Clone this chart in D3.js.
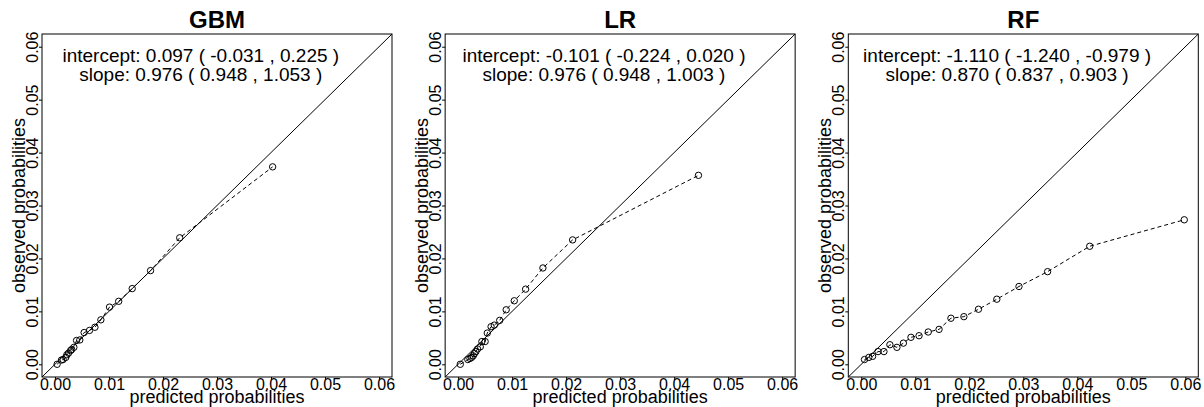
<!DOCTYPE html>
<html>
<head>
<meta charset="utf-8">
<script src="https://cdn.jsdelivr.net/npm/d3@7"></script>
<style>
  html, body { margin: 0; padding: 0; background: #fff; }
  svg { display: block; font-family: "Liberation Sans", Arial, sans-serif; }
</style>
</head>
<body>
<div id="chart"></div>
<script>
const W = 1204;
const H = 407;

// calibration data
const gbmPred = [0.0004, 0.0012, 0.0015, 0.0020, 0.0022, 0.0025, 0.0029, 0.0031, 0.0035, 0.0040, 0.0046,
  0.0054, 0.0064, 0.0074, 0.0085, 0.0101, 0.0118, 0.0143, 0.0177, 0.0231, 0.0403];
const gbmObs = [0.0000, 0.0008, 0.0009, 0.0013, 0.0018, 0.0021, 0.0026, 0.0028, 0.0032, 0.0045, 0.0046,
  0.0060, 0.0064, 0.0070, 0.0084, 0.0108, 0.0119, 0.0143, 0.0177, 0.0239, 0.0373];

const lrPred = [0.0004, 0.0018, 0.0022, 0.0025, 0.0028, 0.0030, 0.0033, 0.0036, 0.0041, 0.0044, 0.0050,
  0.0054, 0.0061, 0.0067, 0.0077, 0.0089, 0.0104, 0.0125, 0.0157, 0.0212, 0.0445];
const lrObs = [0.0000, 0.0009, 0.0011, 0.0013, 0.0016, 0.0020, 0.0024, 0.0029, 0.0033, 0.0043, 0.0043,
  0.0059, 0.0071, 0.0074, 0.0083, 0.0103, 0.0120, 0.0142, 0.0182, 0.0235, 0.0357];

const rfPred = [0.0006, 0.0014, 0.0021, 0.0031, 0.0042, 0.0053, 0.0066, 0.0078, 0.0092, 0.0107, 0.0124,
  0.0144, 0.0166, 0.0190, 0.0217, 0.0251, 0.0292, 0.0345, 0.0423, 0.0598];
const rfObs = [0.0009, 0.0013, 0.0015, 0.0024, 0.0024, 0.0037, 0.0032, 0.0040, 0.0051, 0.0054, 0.0061,
  0.0066, 0.0087, 0.0090, 0.0104, 0.0123, 0.0147, 0.0175, 0.0223, 0.0273];

const titles = ["GBM", "LR", "RF"];
const interceptText = [
  "intercept: 0.097 ( -0.031 , 0.225 )",
  "intercept: -0.101 ( -0.224 , 0.020 )",
  "intercept: -1.110 ( -1.240 , -0.979 )",
];
const slopeText = [
  "slope: 0.976 ( 0.948 , 1.053 )",
  "slope: 0.976 ( 0.948 , 1.003 )",
  "slope: 0.870 ( 0.837 , 0.903 )",
];
const ticks = [0, 0.01, 0.02, 0.03, 0.04, 0.05, 0.06];
const axisMin = -0.0024;
const axisMax = 0.0624;
const textX = 0.027;

const panels = [
  { pred: gbmPred, obs: gbmObs },
  { pred: lrPred, obs: lrObs },
  { pred: rfPred, obs: rfObs },
];

const BOX_W = 350;
const BOX_TOP = 34;
const BOX_BOTTOM = 377;

const svg = d3.select("#chart")
  .append("svg")
  .attr("width", W)
  .attr("height", H)
  .attr("viewBox", `0 0 ${W} ${H}`);

svg.append("rect").attr("width", W).attr("height", H).attr("fill", "#fff");

panels.forEach((panel, i) => {
  const left = 42 + 403.15 * i;
  const x = d3.scaleLinear().domain([axisMin, axisMax]).range([left, left + BOX_W]);
  const y = d3.scaleLinear().domain([axisMin, axisMax]).range([BOX_BOTTOM, BOX_TOP]);
  const cx = left + BOX_W / 2;

  const g = svg.append("g");

  // clip so the diagonal stays inside the box
  const clipId = `clip-${i}`;
  g.append("clipPath").attr("id", clipId)
    .append("rect")
    .attr("x", left).attr("y", BOX_TOP)
    .attr("width", BOX_W).attr("height", BOX_BOTTOM - BOX_TOP);

  // x axis
  g.append("g")
    .attr("transform", `translate(0,${BOX_BOTTOM})`)
    .call(d3.axisBottom(x).tickValues(ticks).tickSize(3).tickFormat(d3.format(".2f")))
    .call((a) => a.select(".domain").remove())
    .call((a) => a.selectAll("line").attr("stroke", "#000"))
    .call((a) => a.selectAll("text")
      .attr("y", 13).attr("dy", 0)
      .attr("fill", "#000")
      .attr("font-size", 16)
      .attr("font-family", "Liberation Sans, Arial, sans-serif"));

  // y axis, rotated labels like R
  g.append("g")
    .attr("transform", `translate(${left},0)`)
    .call(d3.axisLeft(y).tickValues(ticks).tickSize(3).tickFormat(d3.format(".2f")))
    .call((a) => a.select(".domain").remove())
    .call((a) => a.selectAll("line").attr("stroke", "#000"))
    .call((a) => a.selectAll("text")
      .attr("transform", "rotate(-90)")
      .attr("x", 0).attr("y", -4).attr("dy", 0)
      .attr("text-anchor", "middle")
      .attr("fill", "#000")
      .attr("font-size", 16)
      .attr("font-family", "Liberation Sans, Arial, sans-serif"));

  // perfect calibration line
  g.append("line")
    .attr("clip-path", `url(#${clipId})`)
    .attr("x1", x(axisMin)).attr("y1", y(axisMin))
    .attr("x2", x(axisMax)).attr("y2", y(axisMax))
    .attr("stroke", "#000")
    .attr("stroke-width", 1);

  const pts = panel.pred.map((p, k) => ({ p, o: panel.obs[k] }));

  g.append("path")
    .datum(pts)
    .attr("d", d3.line().x((d) => x(d.p)).y((d) => y(d.o)))
    .attr("fill", "none")
    .attr("stroke", "#000")
    .attr("stroke-width", 1)
    .attr("stroke-dasharray", "4,3");

  g.append("g")
    .selectAll("circle")
    .data(pts)
    .join("circle")
    .attr("cx", (d) => x(d.p))
    .attr("cy", (d) => y(d.o))
    .attr("r", 3.2)
    .attr("fill", "none")
    .attr("stroke", "#000")
    .attr("stroke-width", 1);

  // box
  g.append("rect")
    .attr("x", left).attr("y", BOX_TOP)
    .attr("width", BOX_W).attr("height", BOX_BOTTOM - BOX_TOP)
    .attr("fill", "none")
    .attr("stroke", "#000")
    .attr("stroke-width", 1);

  g.append("text")
    .attr("x", cx).attr("y", 28)
    .attr("text-anchor", "middle")
    .attr("font-size", 24)
    .attr("font-weight", "bold")
    .text(titles[i]);

  g.append("text")
    .attr("x", x(textX)).attr("y", BOX_TOP + 28)
    .attr("text-anchor", "middle")
    .attr("font-size", 19)
    .text(interceptText[i]);

  g.append("text")
    .attr("x", x(textX)).attr("y", BOX_TOP + 47)
    .attr("text-anchor", "middle")
    .attr("font-size", 19)
    .text(slopeText[i]);

  g.append("text")
    .attr("x", cx).attr("y", 403)
    .attr("text-anchor", "middle")
    .attr("font-size", 18)
    .text("predicted probabilities");

  const midY = (BOX_TOP + BOX_BOTTOM) / 2;
  g.append("text")
    .attr("transform", `translate(${left - 17},${midY}) rotate(-90)`)
    .attr("text-anchor", "middle")
    .attr("font-size", 18)
    .text("observed probabilities");
});
</script>
</body>
</html>
